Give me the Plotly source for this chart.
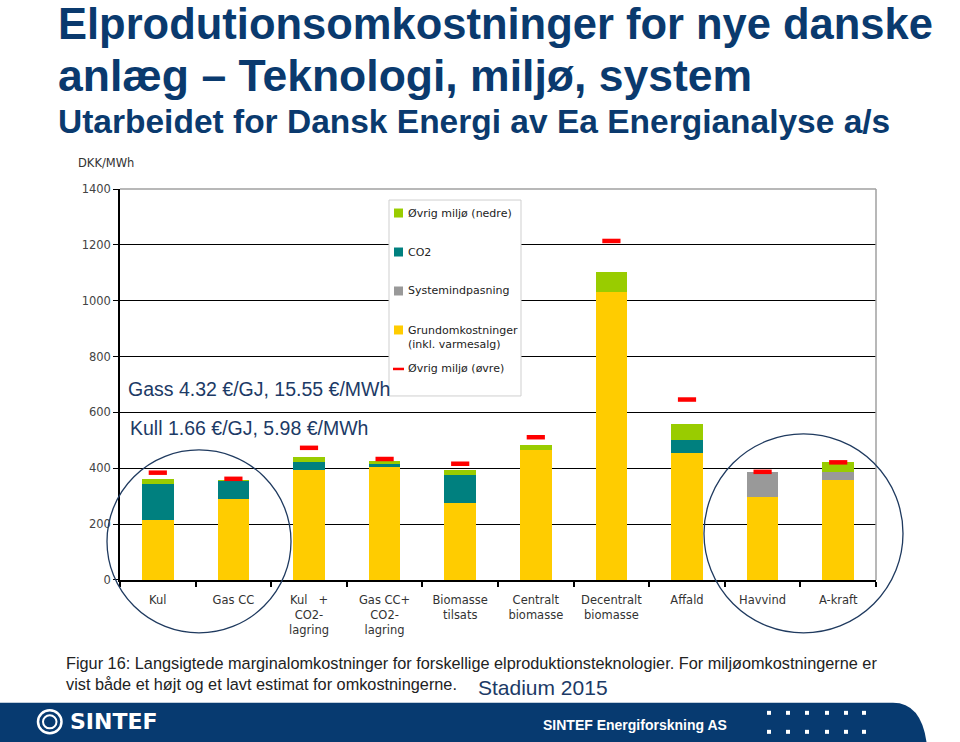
import plotly.graph_objects as go

W, H = 960, 742

categories = ["Kul", "Gas CC", "Kul\u00a0\u00a0\u00a0+<br>CO2-<br>lagring", "Gas CC+<br>CO2-<br>lagring",
              "Biomasse<br>tilsats", "Centralt<br>biomasse", "Decentralt<br>biomasse", "Affald",
              "Havvind", "A-kraft"]
grundomkostninger = [215, 289, 394, 406, 275, 465, 1032, 456, 298, 358]
systemindpasning = [0, 0, 0, 0, 0, 0, 0, 0, 88, 28]
co2 = [129, 67, 30, 8, 101, 0, 0, 45, 0, 0]
miljo_nedre = [18, 1, 17, 12, 18, 18, 72, 56, 0, 35]
miljo_ovre = [384, 362, 473, 433, 416, 511, 1214, 646, 387, 421]
y_ticks = [0, 200, 400, 600, 800, 1000, 1200, 1400]

YELLOW = "#FFCC00"
GRAY = "#999999"
TEAL = "#00807F"
GREEN = "#99CC00"
RED = "#FF0000"
NAVY = "#0a3a6e"

# observed vertical mapping of the page photograph (image_y = A + S * figure_y)
A_OFF, S_SC = 6.9, 0.9815


def px(x):
    return x / W


def py(y):
    return 1 - ((y - A_OFF) / S_SC) / H


fig = go.Figure()
for name, vals, col in [("Grundomkostninger (inkl. varmesalg)", grundomkostninger, YELLOW),
                        ("Systemindpasning", systemindpasning, GRAY),
                        ("CO2", co2, TEAL),
                        ("Øvrig miljø (nedre)", miljo_nedre, GREEN)]:
    fig.add_trace(go.Bar(x=categories, y=vals, name=name, marker=dict(color=col, line=dict(width=0)),
                         width=0.42, showlegend=False))

fig.add_trace(go.Scatter(x=categories, y=miljo_ovre, mode="markers", name="Øvrig miljø (øvre)",
                         marker=dict(symbol="line-ew", size=13, line=dict(width=4.5, color=RED)),
                         showlegend=False))

shapes = []
annotations = []

# plot borders (top, right) in gray
shapes.append(dict(type="line", xref="paper", yref="paper", x0=px(120), x1=px(876), y0=py(189), y1=py(189),
                   line=dict(color="#a0a0a0", width=1.5), layer="above"))
shapes.append(dict(type="line", xref="paper", yref="paper", x0=px(876), x1=px(876), y0=py(189), y1=py(580),
                   line=dict(color="#a0a0a0", width=1.5), layer="above"))

# legend box (manual)
shapes.append(dict(type="rect", xref="paper", yref="paper", x0=px(389), x1=px(521), y0=py(200), y1=py(396),
                   line=dict(color="#cfcfcf", width=1), fillcolor="white", layer="above"))
leg_items = [("Øvrig miljø (nedre)", GREEN, 213, 213),
             ("CO2", TEAL, 252, 252),
             ("Systemindpasning", GRAY, 291, 291),
             ("Grundomkostninger<br>(inkl. varmesalg)", YELLOW, 330, 338),
             ]
for txt, col, ys, yt in leg_items:
    shapes.append(dict(type="rect", xref="paper", yref="paper", x0=px(394), x1=px(403), y0=py(ys - 4.5),
                       y1=py(ys + 4.5), line=dict(width=0), fillcolor=col, layer="above"))
    annotations.append(dict(xref="paper", yref="paper", x=px(406), y=py(yt), xanchor="left", yanchor="middle",
                            text=txt, showarrow=False, align="left",
                            font=dict(family="DejaVu Sans", size=11, color="#222222")))
shapes.append(dict(type="line", xref="paper", yref="paper", x0=px(393), x1=px(404), y0=py(369), y1=py(369),
                   line=dict(color=RED, width=2.5), layer="above"))
annotations.append(dict(xref="paper", yref="paper", x=px(406), y=py(369), xanchor="left", yanchor="middle",
                        text="Øvrig miljø (øvre)", showarrow=False,
                        font=dict(family="DejaVu Sans", size=11, color="#222222")))

# circles
shapes.append(dict(type="circle", xref="paper", yref="paper", x0=px(107), x1=px(291), y0=py(633), y1=py(450),
                   line=dict(color="#1f3a5f", width=1.3), layer="above"))
shapes.append(dict(type="circle", xref="paper", yref="paper", x0=px(704), x1=px(903), y0=py(633), y1=py(434),
                   line=dict(color="#1f3a5f", width=1.3), layer="above"))

# titles
for txt, y, size in [("Elprodutionsomkostninger for nye danske", 24, 43.5),
                     ("anlæg – Teknologi, miljø, system", 75, 44.5),
                     ("Utarbeidet for Dansk Energi av Ea Energianalyse a/s", 121, 33.5)]:
    annotations.append(dict(xref="paper", yref="paper", x=px(56), y=py(y), xanchor="left", yanchor="middle",
                            text="<b>%s</b>" % txt, showarrow=False,
                            font=dict(family="Liberation Sans, Arial", size=size, color=NAVY)))

annotations.append(dict(xref="paper", yref="paper", x=px(76), y=py(163), xanchor="left", yanchor="middle",
                        text="DKK/MWh", showarrow=False,
                        font=dict(family="DejaVu Sans", size=11.5, color="#333333")))

annotations.append(dict(xref="paper", yref="paper", x=px(126), y=py(389), xanchor="left", yanchor="middle",
                        text="Gass 4.32 €/GJ, 15.55 €/MWh", showarrow=False,
                        font=dict(family="Liberation Sans, Arial", size=19.5, color="#1c3a66")))
annotations.append(dict(xref="paper", yref="paper", x=px(128), y=py(428), xanchor="left", yanchor="middle",
                        text="Kull 1.66 €/GJ, 5.98 €/MWh", showarrow=False,
                        font=dict(family="Liberation Sans, Arial", size=19.5, color="#1c3a66")))

# caption
annotations.append(dict(xref="paper", yref="paper", x=px(64), y=py(674), xanchor="left", yanchor="middle",
                        text="Figur 16: Langsigtede marginalomkostninger for forskellige elproduktionsteknologier. "
                             "For miljøomkostningerne er<br>vist både et højt og et lavt estimat for omkostningerne.",
                        showarrow=False, align="left",
                        font=dict(family="Liberation Sans, Arial", size=16.3, color="#222222")))
annotations.append(dict(xref="paper", yref="paper", x=px(476), y=py(688), xanchor="left", yanchor="middle",
                        text="Stadium 2015", showarrow=False,
                        font=dict(family="Liberation Sans, Arial", size=21, color="#1c3a66")))

# bottom band
band = ("M 0,{b} L {x1},{t} Q {x2},{t} {x2},{b2} L 0,{b2} Z").format(
    b=py(703), t=py(703), x1=px(893), x2=px(928), b2=py(765))
shapes.append(dict(type="path", xref="paper", yref="paper", path=band, fillcolor="#073a70",
                   line=dict(width=0), layer="above"))
# logo
shapes.append(dict(type="circle", xref="paper", yref="paper", x0=px(38), x1=px(61.5), y0=py(733.5), y1=py(710.5),
                   line=dict(color="white", width=2.5), layer="above"))
shapes.append(dict(type="circle", xref="paper", yref="paper", x0=px(43), x1=px(56.5), y0=py(728.5), y1=py(715.5),
                   line=dict(color="white", width=2), layer="above"))
annotations.append(dict(xref="paper", yref="paper", x=px(68), y=py(722), xanchor="left", yanchor="middle",
                        text="<b>SINTEF</b>", showarrow=False,
                        font=dict(family="DejaVu Sans", size=22, color="white")))
annotations.append(dict(xref="paper", yref="paper", x=px(541), y=py(725), xanchor="left", yanchor="middle",
                        text="<b>SINTEF Energiforskning AS</b>", showarrow=False,
                        font=dict(family="Liberation Sans, Arial", size=14, color="white")))
for cx in [769, 788, 807, 827, 846, 864]:
    for cy in [713, 732]:
        shapes.append(dict(type="rect", xref="paper", yref="paper", x0=px(cx - 2), x1=px(cx + 2),
                           y0=py(cy + 2), y1=py(cy - 2), fillcolor="white", line=dict(width=0), layer="above"))

fig.update_layout(
    width=W, height=H, barmode="stack",
    margin=dict(l=0, r=0, t=0, b=0),
    paper_bgcolor="white", plot_bgcolor="white",
    font=dict(family="Liberation Sans, Arial", color="#333333"),
    shapes=shapes, annotations=annotations,
    xaxis=dict(domain=[px(120), px(876)], type="category", categoryorder="array", categoryarray=categories,
               range=[-0.5, 9.5], showgrid=False, showline=True, linecolor="black", linewidth=1.5,
               ticks="outside", tickson="boundaries", ticklen=5, tickcolor="black", tickwidth=1.5,
               ticklabelstandoff=9,
               tickfont=dict(family="DejaVu Sans", size=11.5, color="#333333"), fixedrange=True),
    yaxis=dict(domain=[py(580), py(189)], range=[0, 1400], tickvals=y_ticks, showgrid=True,
               gridcolor="black", gridwidth=1, zeroline=False, showline=True, linecolor="black",
               linewidth=1.5, ticks="outside", ticklen=5, tickcolor="black",
               tickfont=dict(family="DejaVu Sans", size=11.5, color="#444444"), fixedrange=True),
    showlegend=False,
)

fig.write_html("out.html", config={"displayModeBar": False},
               post_script="document.documentElement.style.margin='0';document.body.style.margin='0';"
                           "document.documentElement.style.overflow='hidden';document.body.style.overflow='hidden';")
